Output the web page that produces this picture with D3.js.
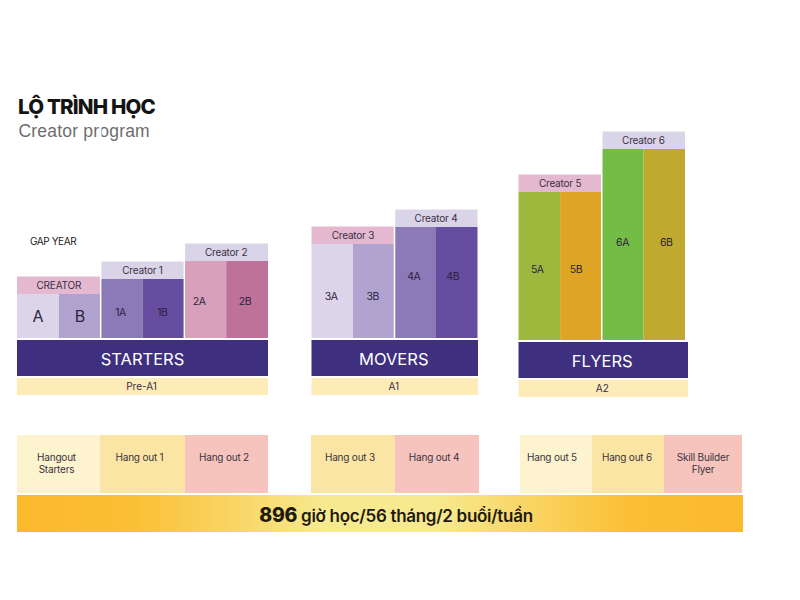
<!DOCTYPE html>
<html>
<head>
<meta charset="utf-8">
<script src="https://cdn.jsdelivr.net/npm/d3@7"></script>
<style>
  body { margin: 0; background: #fff; }
  text { font-family: Inter, "Noto Sans", sans-serif; }
</style>
</head>
<body>
<svg id="chart" width="800" height="600"></svg>
<script>
// Data
var levels = ["STARTERS", "MOVERS", "FLYERS"]
var cefr = ["Pre-A1", "A1", "A2"]
var columnNames = [
  ["A", "B", "1A", "1B", "2A", "2B"],
  ["3A", "3B", "4A", "4B"],
  ["5A", "5B", "6A", "6B"]
]
var columnHeights = [
  [44, 44, 59, 59, 77, 77],
  [94, 94, 111, 111],
  [148, 148, 191, 191]
]
var stageNames = [
  ["CREATOR", "Creator 1", "Creator 2"],
  ["Creator 3", "Creator 4"],
  ["Creator 5", "Creator 6"]
]
var hangouts = [
  [["Hangout", "Starters"], ["Hang out 1"], ["Hang out 2"]],
  [["Hang out 3"], ["Hang out 4"]],
  [["Hang out 5"], ["Hang out 6"], ["Skill Builder", "Flyer"]]
]

// Colours
var columnColors = [
  ["#dcd5e9", "#b0a3cf", "#8c79b8", "#664da0", "#d8a0bb", "#bf7299"],
  ["#dcd5e9", "#b0a3cf", "#8c79b8", "#664da0"],
  ["#9cb83d", "#dea424", "#73bc45", "#bfa92f"]
]
var stageColors = [
  ["#e4b9cf", "#dad4e8", "#dad4e8"],
  ["#e4b9cf", "#dad4e8"],
  ["#e4b9cf", "#dad4e8"]
]
var hangoutColors = [
  ["#fdf3cf", "#fbe5a5", "#f6c4bd"],
  ["#fbe5a5", "#f6c4bd"],
  ["#fdf3cf", "#fbe5a5", "#f6c4bd"]
]

// Layout
var groupLeft = [17, 311.5, 518.5]
var groupRight = [268, 477.5, 685]
var bandRight = [268, 478, 688]
var groupShift = [0, 0, 2]
var hangoutEdges = [[17, 100, 185, 268], [311, 395, 479], [520, 592, 664, 742]]
var hangoutNudge = [[-2, -3, -2.5], [-3, -3], [-4, -1, 0]]
var stageHeight = 17.5
// hand placed label offsets, the labels are not centred in the original
var labelNudgeX = [[0, 0, -1, -1, -6, -2], [-1, -1, -1.5, -4], [-2, -5, 0, 2]]
var labelNudgeY = [[2, 2, 3, 3, 1, 1], [5, 5, -7, -7], [3, 3, -3, -3]]

var svg = d3.select("#chart")

var heightScale = d3.scaleLinear().domain([0, 191]).range([338, 147])

// Title
svg.append("text").attr("x", 18).attr("y", 114)
  .style("font-size", "20.5px").style("font-weight", 800).style("letter-spacing", "-0.8px")
  .attr("fill", "#141414").text("LỘ TRÌNH HỌC")
svg.append("text").attr("x", 18.5).attr("y", 136.5)
  .style("font-family", "Liberation Sans").style("font-size", "17.5px").style("letter-spacing", "0.2px")
  .attr("fill", "#6d6d6d").text("Creator program")
svg.append("text").attr("x", 30).attr("y", 245)
  .style("font-size", "10px").style("letter-spacing", "-0.4px")
  .attr("fill", "#222").text("GAP YEAR")

levels.forEach(function(level, g) {
  var group = svg.append("g").attr("transform", "translate(0," + groupShift[g] + ")")
  var names = columnNames[g]
  var x = d3.scaleBand().domain(names).range([groupLeft[g], groupRight[g]])
  var cols = names.map(function(n, i) {
    return {name: n, h: columnHeights[g][i], color: columnColors[g][i], nx: labelNudgeX[g][i], ny: labelNudgeY[g][i]}
  })

  group.selectAll("rect.col").data(cols).enter().append("rect")
    .attr("class", "col")
    .attr("x", function(d) { return x(d.name) })
    .attr("y", function(d) { return heightScale(d.h) })
    .attr("width", x.bandwidth())
    .attr("height", function(d) { return heightScale(0) - heightScale(d.h) })
    .attr("fill", function(d) { return d.color })

  group.selectAll("text.col").data(cols).enter().append("text")
    .attr("class", "col")
    .attr("x", function(d) { return x(d.name) + x.bandwidth() / 2 + d.nx })
    .attr("y", function(d) { return (heightScale(d.h) + heightScale(0)) / 2 + 4 + d.ny })
    .attr("text-anchor", "middle")
    .style("font-size", function(d) { return d.name.length == 1 ? "16px" : "10.5px" })
    .style("letter-spacing", "-0.4px")
    .attr("fill", "#2c2340")
    .text(function(d) { return d.name })

  // stage header sits on top of each pair of columns
  var stages = stageNames[g].map(function(s, i) {
    return {name: s, color: stageColors[g][i], first: names[i * 2], h: columnHeights[g][i * 2]}
  })
  group.selectAll("rect.stage").data(stages).enter().append("rect")
    .attr("class", "stage")
    .attr("x", function(d) { return x(d.first) })
    .attr("y", function(d) { return heightScale(d.h) - stageHeight })
    .attr("width", x.bandwidth() * 2)
    .attr("height", stageHeight)
    .attr("fill", function(d) { return d.color })
  group.selectAll("text.stage").data(stages).enter().append("text")
    .attr("class", "stage")
    .attr("x", function(d) { return x(d.first) + x.bandwidth() })
    .attr("y", function(d) { return heightScale(d.h) - stageHeight / 2 + 3.5 })
    .attr("text-anchor", "middle")
    .style("font-size", "10px").style("letter-spacing", "-0.2px")
    .attr("fill", "#3a3046")
    .text(function(d) { return d.name })

  // thin white gap between pairs
  stages.slice(1).forEach(function(d) {
    group.append("line")
      .attr("x1", x(d.first)).attr("x2", x(d.first))
      .attr("y1", 120).attr("y2", 338)
      .attr("stroke", "#fff").attr("stroke-width", 1.5)
  })

  // level band
  group.append("rect")
    .attr("x", groupLeft[g]).attr("y", 340)
    .attr("width", bandRight[g] - groupLeft[g]).attr("height", 36)
    .attr("fill", "#3e307e")
  group.append("text")
    .attr("x", (groupLeft[g] + bandRight[g]) / 2 - (g == 0 ? 0 : 1)).attr("y", 364.5)
    .attr("text-anchor", "middle")
    .style("font-size", "16.5px")
    .attr("fill", "#fff")
    .text(level)
  group.append("rect")
    .attr("x", groupLeft[g]).attr("y", 378)
    .attr("width", bandRight[g] - groupLeft[g]).attr("height", 17)
    .attr("fill", "#fdebb8")
  group.append("text")
    .attr("x", (groupLeft[g] + bandRight[g]) / 2 - 1).attr("y", 390)
    .attr("text-anchor", "middle")
    .style("font-size", "10px")
    .attr("fill", "#3a3046")
    .text(cefr[g])

  // hang out row
  var hx = d3.scaleLinear()
    .domain(d3.range(hangoutEdges[g].length))
    .range(hangoutEdges[g])
  hangouts[g].forEach(function(lines, i) {
    svg.append("rect")
      .attr("x", hx(i)).attr("y", 435)
      .attr("width", hx(i + 1) - hx(i)).attr("height", 58)
      .attr("fill", hangoutColors[g][i])
    var t = svg.append("text")
      .attr("text-anchor", "middle")
      .style("font-size", "10px").style("letter-spacing", "-0.2px")
      .attr("fill", "#3a3440")
    lines.forEach(function(line, k) {
      t.append("tspan")
        .attr("x", (hx(i) + hx(i + 1)) / 2 + hangoutNudge[g][i])
        .attr("y", 461 + k * 12)
        .text(line)
    })
  })
})

// Bottom bar
var grad = svg.append("defs").append("linearGradient").attr("id", "barGrad")
grad.selectAll("stop")
  .data([["0%", "#fbb92c"], ["16%", "#fbbf35"], ["42%", "#f7e98e"], ["58%", "#f7e98e"], ["84%", "#fbbf35"], ["100%", "#fbb92c"]])
  .enter().append("stop")
  .attr("offset", function(d) { return d[0] })
  .attr("stop-color", function(d) { return d[1] })
svg.append("rect")
  .attr("x", 17).attr("y", 495).attr("width", 726).attr("height", 37)
  .attr("fill", "url(#barGrad)")
var total = svg.append("text")
  .attr("x", 396).attr("y", 522)
  .attr("text-anchor", "middle")
  .style("font-size", "17px").style("font-weight", 600).style("letter-spacing", "-0.3px")
  .attr("fill", "#1e1a10")
total.append("tspan").style("font-size", "19.5px").style("font-weight", 800).text("896")
total.append("tspan").text(" giờ học/56 tháng/2 buổi/tuần")
</script>
</body>
</html>
